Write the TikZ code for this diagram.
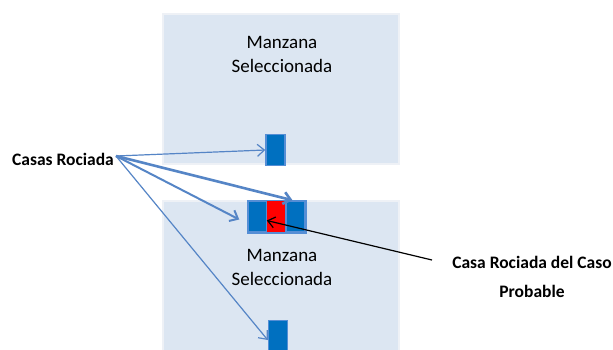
\documentclass[tikz,border=0pt]{standalone}
\usepackage{fontspec}
\setmainfont{Carlito}
\usetikzlibrary{arrows.meta}
\definecolor{blockfill}{HTML}{DCE6F2}
\definecolor{blockedge}{HTML}{EEF1F6}
\definecolor{housefill}{HTML}{0070C0}
\definecolor{houseedge}{HTML}{558ED5}
\definecolor{linkblue}{HTML}{5585C6}
\definecolor{hitred}{HTML}{FF0000}
\tikzset{
  block/.style={draw=blockedge, line width=2pt, fill=blockfill, inner sep=0pt, anchor=north west},
  house/.style={draw=houseedge, line width=1.5pt, fill=housefill, minimum width=19pt, minimum height=31pt, inner sep=0pt},
  redhouse/.style={fill=hitred, minimum width=19pt, minimum height=31pt, inner sep=0pt},
  blocklabel/.style={font=\fontsize{19}{24}\selectfont, align=center, text=black},
  calllabel/.style={font=\bfseries\fontsize{17.5}{29}\selectfont, align=center},
  link/.style={draw=linkblue, -{Straight Barb[length=7pt,width=12pt]}},
  pointer/.style={draw=black, line width=1.2pt, -{Straight Barb[length=7pt,width=11pt]}}
}
\begin{document}
\begin{tikzpicture}[x=1pt,y=-1pt]
  \useasboundingbox (0,0) rectangle (613,349);
  \fill[white] (0,0) rectangle (613,349);

  % the two selected blocks
  \node[block, minimum width=236pt, minimum height=150pt] (blockA) at (162,13) {};
  \node[block, minimum width=236pt, minimum height=160pt] (blockB) at (162,200) {};
  \node[blocklabel] (labelA) at (282,54) {Manzana\\Seleccionada};
  \node[blocklabel] (labelB) at (282,267) {Manzana\\Seleccionada};

  % houses
  \node[house] (h1) at (275.5,150) {};
  \node[house] (h2) at (257.5,216.5) {};
  \node[redhouse] (h3) at (276.5,216.5) {};
  \node[house] (h4) at (295.5,216.5) {};
  \draw[houseedge, line width=1.5pt] (h2.north west) rectangle (h4.south east);
  \node[house] (h5) at (278,336) {};

  % labels
  \node[calllabel, inner sep=0pt] (sprayed) at (63,159) {Casas Rociada};
  \node[calllabel] (probable) at (532,277) {Casa Rociada del Caso\\Probable};
  \coordinate (src) at (116,156);
  \coordinate (ptrstart) at (432,260);

  % connectors
  \draw[link, line width=1.2pt] (src) -- (h1.west);
  \draw[link, line width=2.6pt] (src) -- ([xshift=-3pt]h4.north);
  \draw[link, line width=2pt] (src) -- ([xshift=-8pt,yshift=-3pt]h2.west);
  \draw[link, line width=1.2pt] (src) -- ([yshift=-4pt]h5.west);
  \draw[pointer] (ptrstart) -- ([yshift=-4pt]h3.west);
\end{tikzpicture}
\end{document}
